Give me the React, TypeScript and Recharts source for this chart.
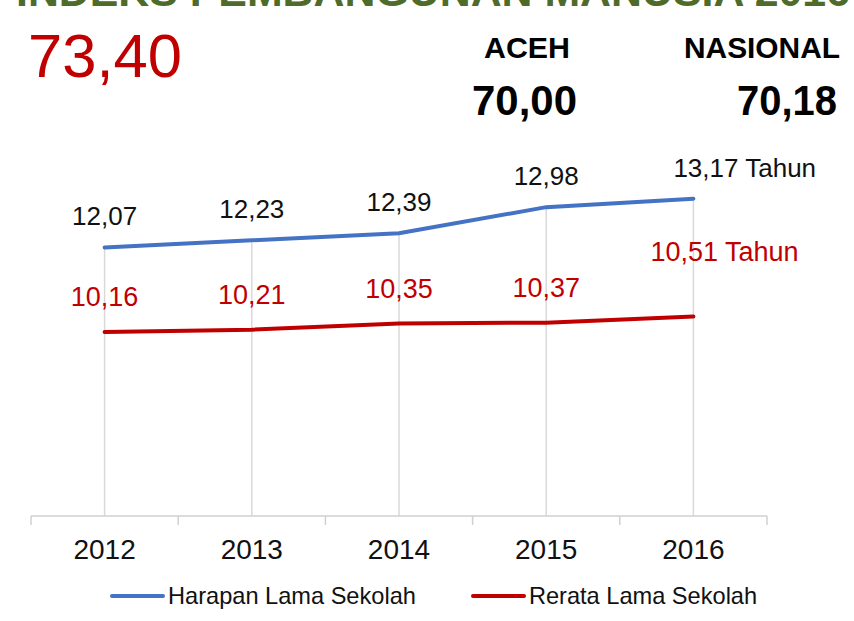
import * as React from "react";
import {
  LineChart,
  Line,
  XAxis,
  YAxis,
  LabelList,
  Legend,
  ReferenceLine,
} from "recharts";

const years = ["2012", "2013", "2014", "2015", "2016"];
const harapanLama = [12.07, 12.23, 12.39, 12.98, 13.17];
const rerataLama = [10.16, 10.21, 10.35, 10.37, 10.51];

const titleText = "INDEKS PEMBANGUNAN MANUSIA 2016";
const ipmKota = "73,40";
const regionNames = ["ACEH", "NASIONAL"];
const regionValues = ["70,00", "70,18"];

const data = years.map((year, i) => ({
  year,
  harapan: harapanLama[i],
  rerata: rerataLama[i],
}));

const FONT = "'Liberation Sans', Arial, sans-serif";
const BLUE = "#4472c4";
const RED = "#c00000";
const Y_MIN = 6;

const fmt = (v: number) => v.toFixed(2).replace(".", ",");

// label renderer; the last point gets the " Tahun" suffix and is nudged like in the slide
const makeLabel =
  (color: string, size: number, lift: number, lastShift: number, lastLift: number) =>
  (props: any) => {
    const { x, y, value, index } = props;
    const isLast = index === years.length - 1;
    if (isLast) {
      return (
        <text
          x={x - lastShift}
          y={y - lastLift}
          fill={color}
          fontSize={size}
          fontFamily={FONT}
          textAnchor="start"
        >
          {fmt(value)} Tahun
        </text>
      );
    }
    return (
      <text x={x} y={y - lift} fill={color} fontSize={size} fontFamily={FONT} textAnchor="middle">
        {fmt(value)}
      </text>
    );
  };

const YearTick = (props: any) => {
  const { x, y, payload, index, visibleTicksCount } = props;
  const half = payload?.offset;
  return (
    <g>
      {half ? (
        <line x1={x - half} x2={x - half} y1={y} y2={y + 9} stroke="#d0d0d0" strokeWidth={1.5} />
      ) : null}
      {half && index === visibleTicksCount - 1 ? (
        <line x1={x + half} x2={x + half} y1={y} y2={y + 9} stroke="#d0d0d0" strokeWidth={1.5} />
      ) : null}
      <text x={x} y={y + 43} textAnchor="middle" fontSize={28} fontFamily={FONT} fill="#111">
        {payload.value}
      </text>
    </g>
  );
};

const LegendContent = (props: any) => {
  const { payload = [] } = props;
  return (
    <div style={{ display: "flex", alignItems: "center", paddingLeft: 110, fontFamily: FONT }}>
      {payload.map((item: any, i: number) => (
        <div
          key={item.value}
          style={{ display: "flex", alignItems: "center", marginLeft: i === 0 ? 0 : 55 }}
        >
          <svg width={55} height={8}>
            <line x1={2} x2={53} y1={4} y2={4} stroke={item.color} strokeWidth={4} strokeLinecap="round" />
          </svg>
          <span style={{ fontSize: 23.6, lineHeight: "24px", color: "#111", marginLeft: 3 }}>
            {item.value}
          </span>
        </div>
      ))}
    </div>
  );
};

export default function App() {
  return (
    <div
      style={{
        position: "fixed",
        top: 0,
        left: 0,
        width: 854,
        height: 621,
        overflow: "hidden",
        background: "#fff",
      }}
    >
      <svg
        width={854}
        height={130}
        style={{ position: "absolute", top: 0, left: 0 }}
        fontFamily={FONT}
      >
        <text x={16} y={6} fontSize={42} fontWeight="bold" fill="#4f6b2a" textLength={834} lengthAdjust="spacingAndGlyphs">
          {titleText}
        </text>
        <text x={28} y={77} fontSize={61} fill={RED} textLength={154} lengthAdjust="spacingAndGlyphs">
          {ipmKota}
        </text>
        <text x={484} y={58} fontSize={30} fontWeight="bold" fill="#000" textLength={86} lengthAdjust="spacingAndGlyphs">
          {regionNames[0]}
        </text>
        <text x={684} y={58} fontSize={30} fontWeight="bold" fill="#000" textLength={156} lengthAdjust="spacingAndGlyphs">
          {regionNames[1]}
        </text>
        <text x={472} y={115} fontSize={42} fontWeight="bold" fill="#000" textLength={105} lengthAdjust="spacingAndGlyphs">
          {regionValues[0]}
        </text>
        <text x={737} y={115} fontSize={42} fontWeight="bold" fill="#000" textLength={100} lengthAdjust="spacingAndGlyphs">
          {regionValues[1]}
        </text>
      </svg>

      <div style={{ position: "absolute", top: 0, left: 0 }}>
        <LineChart
          width={854}
          height={621}
          data={data}
          margin={{ top: 162, right: 87, bottom: 45, left: 31 }}
        >
          <XAxis
            dataKey="year"
            scale="band"
            height={60}
            axisLine={{ stroke: "#d0d0d0", strokeWidth: 1.5 }}
            tickLine={false}
            tickSize={0}
            tickMargin={0}
            tick={<YearTick />}
            interval={0}
          />
          <YAxis hide domain={[Y_MIN, 14]} />

          {/* drop lines from the top series down to the axis */}
          {data.map((d) => (
            <ReferenceLine
              key={`drop-${d.year}`}
              segment={[
                { x: d.year, y: Y_MIN },
                { x: d.year, y: d.harapan },
              ]}
              stroke="#d9d9d9"
              strokeWidth={1.5}
            />
          ))}

          <Legend
            verticalAlign="middle"
            layout="horizontal"
            content={<LegendContent />}
            wrapperStyle={{ top: 584, left: 0, width: 854 }}
          />

          <Line
            type="linear"
            dataKey="harapan"
            name="Harapan Lama Sekolah"
            stroke={BLUE}
            strokeWidth={4}
            strokeLinecap="round"
            dot={false}
            isAnimationActive={false}
          >
            <LabelList dataKey="harapan" content={makeLabel("#111", 26, 22, 20, 22)} />
          </Line>
          <Line
            type="linear"
            dataKey="rerata"
            name="Rerata Lama Sekolah"
            stroke={RED}
            strokeWidth={4}
            strokeLinecap="round"
            dot={false}
            isAnimationActive={false}
          >
            <LabelList dataKey="rerata" content={makeLabel(RED, 27, 26, 43, 55)} />
          </Line>
        </LineChart>
      </div>
    </div>
  );
}
